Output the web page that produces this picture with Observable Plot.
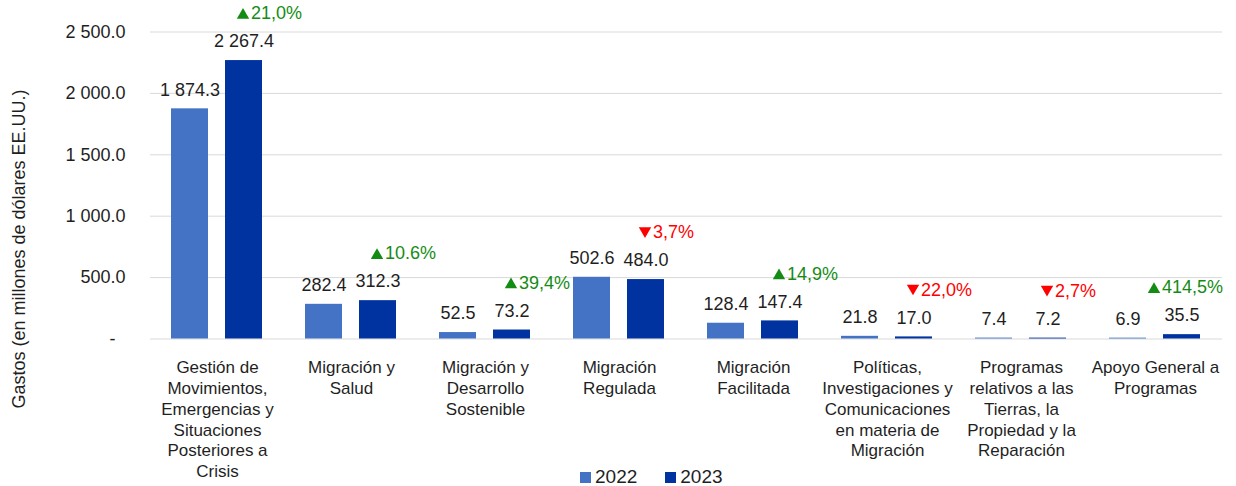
<!DOCTYPE html>
<html>
<head>
<meta charset="utf-8">
<script src="https://cdn.jsdelivr.net/npm/d3@7"></script>
<script src="https://cdn.jsdelivr.net/npm/@observablehq/plot@0.6"></script>
<style>
  html, body { margin: 0; padding: 0; background: #fff; }
  #wrap { position: relative; width: 1236px; height: 486px; font-family: "Liberation Sans", Arial, sans-serif; color: #1f1f1f; }
  #chart svg { display: block; }
  #ylabel { position: absolute; left: 19px; top: 249px; transform: translate(-50%, -50%) rotate(-90deg); white-space: nowrap; font-size: 18px; }
  #legend { position: absolute; left: 580px; top: 466px; display: flex; align-items: center; font-size: 19px; }
  #legend .item { display: flex; align-items: center; margin-right: 28px; }
  #legend .sw { width: 11px; height: 11px; margin-right: 4px; }
</style>
</head>
<body>
<div id="wrap">
  <div id="chart"></div>
  <div id="ylabel">Gastos (en millones de dólares EE.UU.)</div>
  <div id="legend"></div>
</div>
<script>
const categories = [
  "Gestión de\nMovimientos,\nEmergencias y\nSituaciones\nPosteriores a\nCrisis",
  "Migración y\nSalud",
  "Migración y\nDesarrollo\nSostenible",
  "Migración\nRegulada",
  "Migración\nFacilitada",
  "Políticas,\nInvestigaciones y\nComunicaciones\nen materia de\nMigración",
  "Programas\nrelativos a las\nTierras, la\nPropiedad y la\nReparación",
  "Apoyo General a\nProgramas"
];
const years = ["2022", "2023"];
const values2022 = [1874.3, 282.4, 52.5, 502.6, 128.4, 21.8, 7.4, 6.9];
const values2023 = [2267.4, 312.3, 73.2, 484.0, 147.4, 17.0, 7.2, 35.5];
const changeLabels = ["21,0%", "10.6%", "39,4%", "3,7%", "14,9%", "22,0%", "2,7%", "414,5%"];
const changeUp = [true, true, true, false, true, false, false, true];
const yTicks = [0, 500, 1000, 1500, 2000, 2500];
const colors = ["#4472c4", "#0033a0"];
const green = "#148c14", red = "#ff0000";

const data = [];
categories.forEach((c, i) => {
  data.push({category: c, year: years[0], value: values2022[i]});
  data.push({category: c, year: years[1], value: values2023[i]});
});
const changes = categories.map((c, i) => ({
  idx: i, category: c, year: years[1], value: values2023[i],
  label: changeLabels[i], up: changeUp[i]
}));

const fmt = v => d3.format(",.1f")(v).replace(/,/g, " ");
const tickFmt = v => v === 0 ? "-\u00a0\u00a0" : fmt(v);
const last = categories.length - 1;

// percentage-change annotation: triangle symbol + text
function pctMarks(filter, up, shift) {
  const rows = changes.filter(d => d.up === up && filter(d));
  const fill = up ? green : red;
  return [
    Plot.dot(rows, {
      fx: "category", x: "year", y: "value",
      symbol: "triangle", r: 4.6, fill, stroke: null,
      rotate: up ? 0 : 180,
      dx: -1 + shift, dy: up ? -45.3 : -48.7
    }),
    Plot.text(rows, {
      fx: "category", x: "year", y: "value", text: "label",
      textAnchor: "start", lineAnchor: "middle",
      dx: 7 + shift, dy: -47, fill, fontSize: 18
    })
  ];
}

const chart = Plot.plot({
  width: 1236,
  height: 486,
  marginLeft: 148,
  marginRight: 12,
  marginTop: 31.5,
  marginBottom: 147.5,
  style: {fontFamily: "'Liberation Sans', Arial, sans-serif", fontSize: "18px", color: "#1f1f1f", background: "transparent"},
  fx: {domain: categories, padding: 0, label: null},
  x: {domain: years, paddingInner: 0.31, paddingOuter: 0.377, axis: null},
  y: {domain: [0, 2500]},
  color: {domain: years, range: colors},
  marks: [
    Plot.gridY(yTicks, {stroke: "#d9d9d9", strokeOpacity: 1, strokeWidth: 1}),
    Plot.axisY(yTicks, {tickSize: 0, tickPadding: 25, tickFormat: tickFmt, fontSize: 18, label: null}),
    Plot.axisFx({anchor: "bottom", tickSize: 0, tickPadding: 19, fontSize: 17, lineHeight: 1.23, label: null}),
    Plot.barY(data, {fx: "category", x: "year", y: "value", fill: "year"}),
    Plot.text(data, {fx: "category", x: "year", y: "value", text: d => fmt(d.value), dy: -19, lineAnchor: "middle", fontSize: 18, fill: "#1f1f1f"}),
    ...pctMarks(d => d.idx !== last, true, 0),
    ...pctMarks(d => d.idx !== last, false, 0),
    ...pctMarks(d => d.idx === last, true, -27)
  ]
});
document.getElementById("chart").appendChild(chart);

const legend = document.getElementById("legend");
years.forEach((y, i) => {
  const item = document.createElement("div");
  item.className = "item";
  const sw = document.createElement("div");
  sw.className = "sw";
  sw.style.background = colors[i];
  const t = document.createElement("span");
  t.textContent = y;
  item.appendChild(sw);
  item.appendChild(t);
  legend.appendChild(item);
});
</script>
</body>
</html>
